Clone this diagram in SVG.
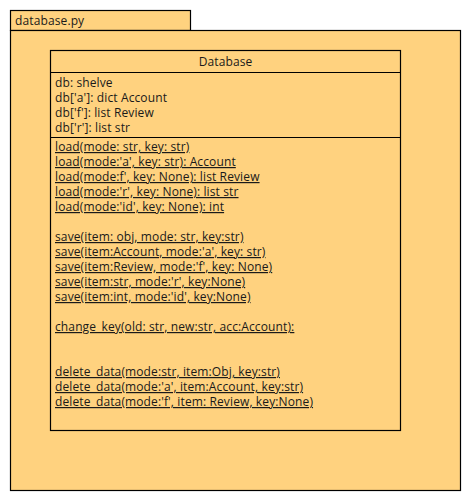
<svg xmlns="http://www.w3.org/2000/svg" width="470" height="500" viewBox="0 0 470 500">
<style>
.box{fill:#FFD27F;stroke:#000;stroke-width:1.2}
.ln{stroke:#000;stroke-width:1.2}
text{font-family:"Open Sans","Noto Sans",sans-serif;font-size:12px;letter-spacing:0.12px;fill:#1a1a1a}
.u{text-decoration:underline}
</style>
<rect width="470" height="500" fill="#fff"/>
<g id="package">
<rect class="box" x="10.5" y="10.5" width="180" height="20"/>
<rect class="box" x="10.5" y="30.5" width="450" height="460"/>
<text x="15" y="25">database.py</text>
</g>
<g id="Database">
<rect class="box" x="50.5" y="50.5" width="350" height="380"/>
<line class="ln" x1="50.5" y1="72.5" x2="400.5" y2="72.5"/>
<line class="ln" x1="50.5" y1="137.5" x2="400.5" y2="137.5"/>
<text x="225.5" y="66" text-anchor="middle">Database</text>
<text x="55" y="87">db: shelve</text>
<text x="55" y="102">db['a']: dict Account</text>
<text x="55" y="117">db['f']: list Review</text>
<text x="55" y="132">db['r']: list str</text>
<text class="u" x="55" y="151">load(mode: str, key: str)</text>
<text class="u" x="55" y="166">load(mode:'a', key: str): Account</text>
<text class="u" x="55" y="181">load(mode:f', key: None): list Review</text>
<text class="u" x="55" y="196">load(mode:'r', key: None): list str</text>
<text class="u" x="55" y="211">load(mode:'id', key: None): int</text>
<text class="u" x="55" y="241">save(item: obj, mode: str, key:str)</text>
<text class="u" x="55" y="256">save(item:Account, mode:'a', key: str)</text>
<text class="u" x="55" y="271">save(item:Review, mode:'f', key: None)</text>
<text class="u" x="55" y="286">save(item:str, mode:'r', key:None)</text>
<text class="u" x="55" y="301">save(item:int, mode:'id', key:None)</text>
<text class="u" x="55" y="331">change_key(old: str, new:str, acc:Account):</text>
<text class="u" x="55" y="376">delete_data(mode:str, item:Obj, key:str)</text>
<text class="u" x="55" y="391">delete_data(mode:'a', item:Account, key:str)</text>
<text class="u" x="55" y="406">delete_data(mode:'f', item: Review, key:None)</text>
</g>
</svg>
